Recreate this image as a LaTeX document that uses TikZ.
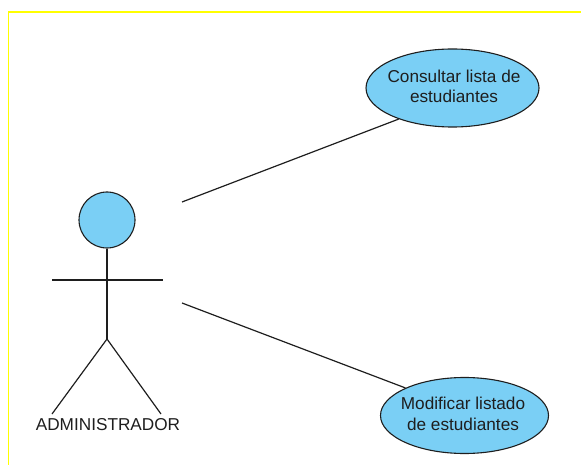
\documentclass[tikz,border=0pt]{standalone}
\usepackage{fontspec}
\setmainfont{Liberation Sans}
\usepackage{tikz}
\usepackage{mathtools}
\usetikzlibrary{shapes.geometric}
\definecolor{useCaseColor}{RGB}{122,207,245}
\definecolor{frameColor}{RGB}{255,255,0}
\definecolor{lineColor}{RGB}{30,30,30}
\tikzstyle{diagram} = [x = 1pt, y = -1pt]
\tikzstyle{frameLine} = [color=frameColor, line width=1.5pt]
\tikzstyle{actorLine} = [color=lineColor, line width=1.2pt]
\tikzstyle{useCaseStyle} = [draw=lineColor, fill=useCaseColor, ellipse, line width=1.1pt, inner sep=0pt, font=\fontsize{17.2}{21.5}\selectfont, text=lineColor]
\tikzstyle{actorText} = [font=\fontsize{17.2}{20}\selectfont, text=lineColor, inner sep=0pt]
\newcommand{\useCase}[8]{\node [useCaseStyle, minimum width=#3pt, minimum height=#4pt] (#5) at (#1,#2) {\hspace*{#8pt}\begin{tabular}{@{}c@{}}\clap{#6}\\[-1pt]\clap{#7}\end{tabular}};}

\begin{document}
\begin{tikzpicture}[diagram]
  \useasboundingbox (0,0) rectangle (581,465);
  % frame runs off the right and bottom edges
  \draw [frameLine] (8.5,465) -- (8.5,12) -- (581,12);

  % actor
  \node [circle, draw=lineColor, fill=useCaseColor, line width=1.1pt, minimum size=56pt, inner sep=0pt] (head) at (107,220) {};
  \coordinate (hip) at (107,339);
  \coordinate (handLeft) at (52,280);
  \coordinate (handRight) at (163,280);
  \coordinate (footLeft) at (52,414);
  \coordinate (footRight) at (161,414);
  \draw [actorLine] (head) -- (hip);
  \draw [actorLine] (handLeft) -- (handRight);
  \draw [actorLine] (footLeft) -- (hip) -- (footRight);
  \node [actorText] (actorName) at (108,425) {ADMINISTRADOR};

  % use cases
  \useCase{452.5}{88}{173}{78}{consultar}{Consultar lista de}{estudiantes}{3}
  \useCase{464.5}{415.5}{168}{76}{modificar}{Modificar listado}{de estudiantes}{-3}

  \coordinate (linkUp) at (182,202);
  \coordinate (linkDown) at (182,303);
  \draw [actorLine] (linkUp) -- (consultar.210);
  \draw [actorLine] (linkDown) -- (modificar.155);
\end{tikzpicture}
\end{document}
